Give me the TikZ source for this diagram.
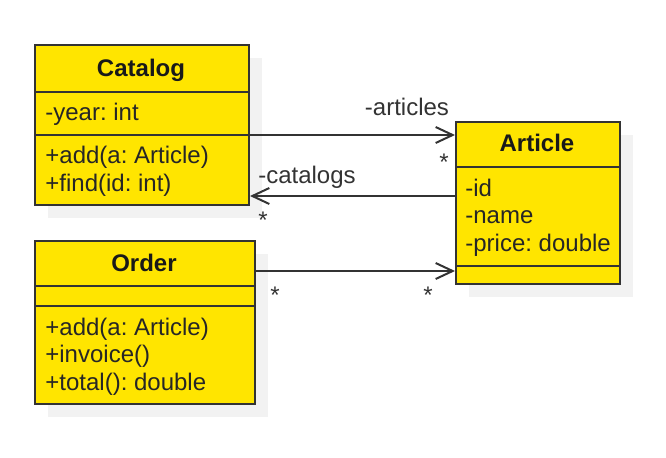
\documentclass[tikz,border=0pt]{standalone}
\usepackage{fontspec}
\setmainfont{Liberation Sans}
\frenchspacing
\usetikzlibrary{arrows.meta, shadows}
\definecolor{umlfill}{HTML}{FFE500}
\definecolor{umlline}{HTML}{333333}
\definecolor{umlshadow}{HTML}{F2F2F2}
\tikzset{
x=0.5pt, y=-0.5pt, % one unit is one pixel of the reference
class/.style={draw=umlline, fill=umlfill, line width=1pt, anchor=north west, inner sep=0pt,
  drop shadow={shadow xshift=6.5pt, shadow yshift=-6.5pt, fill=umlshadow, opacity=1}}, % class box
classname/.style={font=\bfseries\fontsize{12}{14}\selectfont, text=black!90, anchor=base, inner sep=0pt},
members/.style={font=\fontsize{12}{13.75}\selectfont, text=black!85, align=left, anchor=base west, inner sep=0pt}, % base = last line
divider/.style={draw=umlline, line width=1pt},
assoc/.style={draw=umlline, line width=1pt, -{Straight Barb[length=8.5pt, width=8pt]}}, % open arrow
role/.style={font=\fontsize{12}{14}\selectfont, text=umlline, anchor=base, inner sep=0pt},
mult/.style={font=\fontsize{12}{14}\selectfont, text=umlline, inner sep=0pt},
}
\begin{document}
\begin{tikzpicture}
        \useasboundingbox (0,0) rectangle (666,457);

        % classes
        \node[class, minimum width=107pt, minimum height=80pt] (catalog) at (34,44) {};
        \node[class, minimum width=110pt, minimum height=81.5pt] (order) at (34,240) {};
        \node[class, minimum width=82pt, minimum height=81pt] (article) at (455,121) {};

        \draw[divider] (catalog.west |- 0,92) -- (catalog.east |- 0,92)
        (catalog.west |- 0,135) -- (catalog.east |- 0,135);
        \draw[divider] (order.west |- 0,286) -- (order.east |- 0,286)
        (order.west |- 0,306) -- (order.east |- 0,306);
        \draw[divider] (article.west |- 0,167) -- (article.east |- 0,167)
        (article.west |- 0,266) -- (article.east |- 0,266);

        \node[classname] (catalogname) at (141,76) {Catalog};
        \node[members] (catalogattr) at (45,120) {-year: int};
        \node[members] (catalogops) at (45,191) {+add(a: Article)\\+find(id: int)};

        \node[classname] (ordername) at (144,271) {Order};
        \node[members] (orderops) at (45,390) {+add(a: Article)\\+invoice()\\+total(): double};

        \node[classname] (articlename) at (537,151) {Article};
        \node[members] (articleattr) at (465,251) {-id\\-name\\-price: double};

        % associations
        \draw[assoc] ([yshift=-5pt]catalog.east) -- ([yshift=-5pt]catalog.east -| article.west);
        \draw[assoc] ([yshift=3.5pt]article.west) -- ([yshift=3.5pt]article.west -| catalog.east);
        \draw[assoc] ([yshift=25.75pt]order.east) -- ([yshift=25.75pt]order.east -| article.west);

        \node[role] (articlesrole) at (407,115) {-articles};
        \node[mult] (articlesmult) at (444,162) {*};
        \node[role] (catalogsrole) at (307,183) {-catalogs};
        \node[mult] (catalogsmult) at (263,220) {*};
        \node[mult] (ordermult) at (275,295) {*};
        \node[mult] (orderartmult) at (428,295) {*};
      \end{tikzpicture}
\end{document}
